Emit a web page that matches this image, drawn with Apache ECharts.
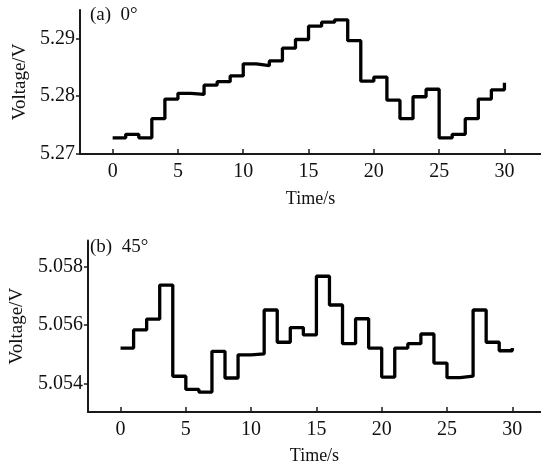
<!DOCTYPE html>
<html><head><meta charset="utf-8">
<script src="https://cdn.jsdelivr.net/npm/echarts@6/dist/echarts.min.js"></script>
<style>html,body{margin:0;padding:0;background:#fff}#c{width:541px;height:466px}</style>
</head><body><div id="c"></div>
<script>
const times = [0,1,2,3,4,5,6,7,8,9,10,11,12,13,14,15,16,17,18,19,20,21,22,23,24,25,26,27,28,29,30];
const voltageA = [5.2728,5.2734,5.2728,5.2761,5.2795,5.2805,5.2803,5.2819,5.2825,5.2835,5.2856,5.2853,5.2861,5.2883,5.2898,5.2921,5.2928,5.2932,5.2896,5.2826,5.2833,5.2793,5.2761,5.2799,5.2812,5.2728,5.2734,5.2761,5.2795,5.2811,5.2823];
const voltageB = [5.05521,5.05583,5.05620,5.05736,5.05425,5.05380,5.05371,5.05510,5.05419,5.05498,5.05501,5.05651,5.05541,5.05591,5.05566,5.05766,5.05668,5.05536,5.05621,5.05521,5.05422,5.05521,5.05536,5.05569,5.05470,5.05420,5.05425,5.05651,5.05541,5.05512,5.05521];
const xTicks = [0,5,10,15,20,25,30];
const yTicksA = [5.27,5.28,5.29];
const yTicksB = [5.054,5.056,5.058];
const titleA = '(a)  0°';
const titleB = '(b)  45°';
const xName = 'Time/s';
const yName = 'Voltage/V';

const FONT = "'Liberation Serif','DejaVu Serif',serif";
const chart = echarts.init(document.getElementById('c'), null, {renderer:'canvas'});
function xAx(idx, max, gap){
  return {type:'value', gridIndex:idx, min:-2.5, max:max,
    name:xName, nameLocation:'middle', nameGap:gap,
    nameTextStyle:{fontFamily:FONT,fontSize:18,color:'#111'},
    axisLine:{show:true,onZero:false,lineStyle:{color:'#1a1a1a',width:2}},
    axisTick:{show:true,inside:true,length:5,customValues:xTicks,lineStyle:{color:'#1a1a1a',width:1.5}},
    axisLabel:{customValues:xTicks,margin:8,fontFamily:FONT,fontSize:20,color:'#111'},
    splitLine:{show:false}};
}
function yAx(idx, min, max, ticks, dec){
  return {type:'value', gridIndex:idx, min:min, max:max,
    name:yName, nameLocation:'middle', nameGap:49,
    nameTextStyle:{fontFamily:FONT,fontSize:19,color:'#111'},
    axisLine:{show:true,onZero:false,lineStyle:{color:'#1a1a1a',width:2}},
    axisTick:{show:true,inside:false,length:4,customValues:ticks,lineStyle:{color:'#1a1a1a',width:1.5}},
    axisLabel:{customValues:ticks,margin:5,fontFamily:FONT,fontSize:20,color:'#111',formatter:v=>v.toFixed(dec)},
    splitLine:{show:false}};
}
chart.setOption({
  animation:false,
  backgroundColor:'#fff',
  grid:[{left:80,top:10,width:461,height:144},{left:87,top:240.5,width:454,height:171.5}],
  xAxis:[xAx(0,32.8,36), xAx(1,32.2,35)],
  yAxis:[yAx(0,5.27,5.2949,yTicksA,2), yAx(1,5.05303,5.05888,yTicksB,3)],
  graphic:[
    {type:'text',left:90,top:6,style:{text:titleA,font:"19px "+FONT,fill:'#111'}},
    {type:'text',left:90,top:238,style:{text:titleB,font:"19px "+FONT,fill:'#111'}}
  ],
  series:[
    {type:'line',xAxisIndex:0,yAxisIndex:0,step:'end',symbol:'none',
     lineStyle:{color:'#000',width:3.3},data:times.map((t,i)=>[t,voltageA[i]])},
    {type:'line',xAxisIndex:1,yAxisIndex:1,step:'end',symbol:'none',
     lineStyle:{color:'#000',width:3.3},data:times.map((t,i)=>[t,voltageB[i]])}
  ]
});
</script></body></html>
